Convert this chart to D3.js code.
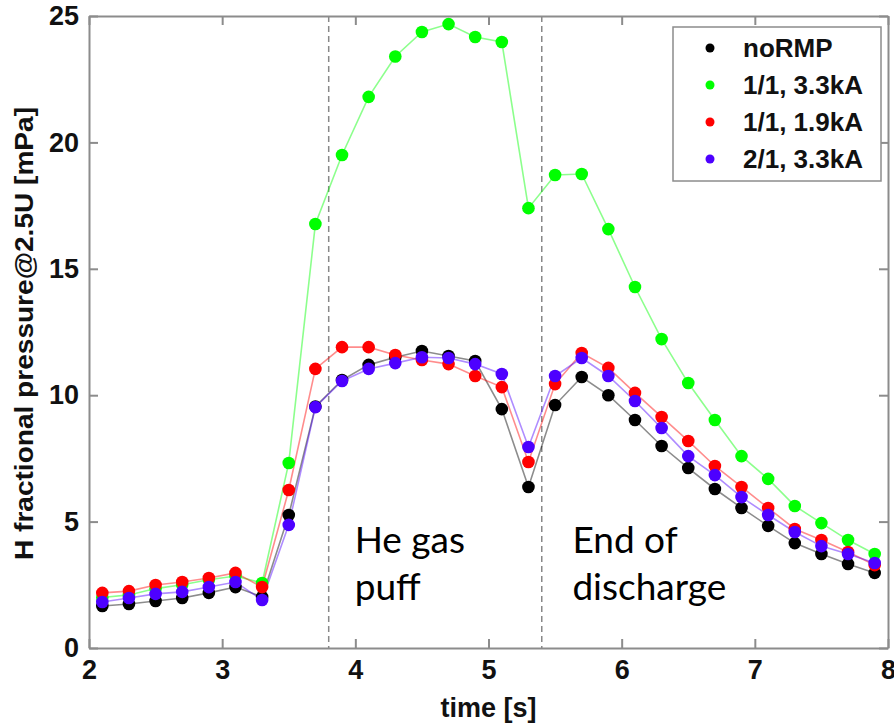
<!DOCTYPE html>
<html>
<head>
<meta charset="utf-8">
<script src="https://cdn.jsdelivr.net/npm/d3@7"></script>
<style>
  body { margin: 0; background: white; }
  svg { display: block; }
</style>
</head>
<body>
<div id="chart"></div>
<script>
// time points [s]
const times = [2.1, 2.3, 2.5, 2.7, 2.9, 3.1, 3.3, 3.5, 3.7, 3.9, 4.1, 4.3, 4.5, 4.7, 4.9,
  5.1, 5.3, 5.5, 5.7, 5.9, 6.1, 6.3, 6.5, 6.7, 6.9, 7.1, 7.3, 7.5, 7.7, 7.9];

const noRMP = [1.66, 1.74, 1.86, 1.98, 2.18, 2.41, 2.02, 5.26, 9.55, 10.6, 11.2, 11.5, 11.75, 11.55, 11.35,
  9.45, 6.37, 9.61, 10.72, 10.0, 9.02, 7.99, 7.12, 6.29, 5.54, 4.83, 4.15, 3.72, 3.32, 2.97];
const m11_33 = [2.0, 2.1, 2.35, 2.5, 2.7, 2.85, 2.57, 7.32, 16.77, 19.5, 21.8, 23.4, 24.37, 24.68, 24.17,
  23.97, 17.4, 18.71, 18.75, 16.57, 14.28, 12.22, 10.48, 9.02, 7.59, 6.69, 5.62, 4.94, 4.27, 3.72];
const m11_19 = [2.18, 2.25, 2.49, 2.61, 2.77, 2.97, 2.41, 6.25, 11.04, 11.9, 11.9, 11.59, 11.39, 11.23, 10.76,
  10.32, 7.36, 10.44, 11.67, 11.08, 10.09, 9.14, 8.19, 7.20, 6.37, 5.54, 4.71, 4.27, 3.80, 3.28];
const m21_33 = [1.82, 1.98, 2.14, 2.22, 2.41, 2.61, 1.90, 4.87, 9.53, 10.56, 11.04, 11.27, 11.5, 11.47, 11.23,
  10.84, 7.95, 10.76, 11.47, 10.76, 9.77, 8.70, 7.59, 6.84, 5.97, 5.26, 4.59, 4.03, 3.72, 3.36];

const seriesNames = ["noRMP", "1/1, 3.3kA", "1/1, 1.9kA", "2/1, 3.3kA"];
const seriesColors = ["#000000", "#00ff00", "#ff0000", "#4d00ff"];
const seriesValues = [noRMP, m11_33, m11_19, m21_33];

const xTicks = [2, 3, 4, 5, 6, 7, 8];
const yTicks = [0, 5, 10, 15, 20, 25];
const markerTimes = [3.8, 5.4];

const width = 894, height = 724;
const marginLeft = 89, marginRight = 6, marginTop = 16, marginBottom = 76;

const x = d3.scaleLinear([2, 8], [marginLeft, width - marginRight]);
const y = d3.scaleLinear([0, 25], [height - marginBottom, marginTop]);

const svg = d3.select("#chart").append("svg")
  .attr("width", width)
  .attr("height", height)
  .attr("viewBox", [0, 0, width, height]);

const axisColor = "#8c8c8c";
const tickFont = "'Liberation Sans', Arial, sans-serif";

// vertical dashed lines
svg.append("g")
  .selectAll("line")
  .data(markerTimes)
  .join("line")
  .attr("x1", d => x(d)).attr("x2", d => x(d))
  .attr("y1", y(25)).attr("y2", y(0))
  .attr("stroke", "#888")
  .attr("stroke-width", 1.5)
  .attr("stroke-dasharray", "6,4");

// annotations
const notes = [
  { x: 3.995, lines: ["He gas", "puff"] },
  { x: 5.63, lines: ["End of", "discharge"] }
];
notes.forEach(n => {
  const t = svg.append("text")
    .attr("font-family", "Lato, 'Open Sans', sans-serif")
    .attr("font-size", 37)
    .attr("fill", "#000");
  n.lines.forEach((l, i) => {
    t.append("tspan").attr("x", x(n.x)).attr("y", 553 + i * 47).text(l);
  });
});

// series lines
const line = d3.line()
  .x((d, i) => x(times[i]))
  .y(d => y(d));

seriesValues.forEach((vals, k) => {
  svg.append("path")
    .attr("fill", "none")
    .attr("stroke", seriesColors[k])
    .attr("stroke-opacity", 0.45)
    .attr("stroke-width", 1.6)
    .attr("d", line(vals));
});
seriesValues.forEach((vals, k) => {
  svg.append("g")
    .selectAll("circle")
    .data(vals)
    .join("circle")
    .attr("cx", (d, i) => x(times[i]))
    .attr("cy", d => y(d))
    .attr("r", 6.3)
    .attr("fill", seriesColors[k]);
});

// axes box with inward ticks
const xAxis = d3.axisBottom(x).tickValues(xTicks).tickFormat(d3.format("d"))
  .tickSize(-9).tickPadding(12).tickSizeOuter(0);
const yAxis = d3.axisLeft(y).tickValues(yTicks).tickFormat(d3.format("d"))
  .tickSize(-9).tickPadding(10).tickSizeOuter(0);

svg.append("g")
  .attr("transform", `translate(0,${y(0)})`)
  .call(xAxis)
  .call(g => g.selectAll(".tick text")
    .attr("font-size", 27).attr("font-weight", "bold").attr("font-family", tickFont).attr("fill", "#111"));
svg.append("g")
  .attr("transform", `translate(${x(2)},0)`)
  .call(yAxis)
  .call(g => g.selectAll(".tick text")
    .attr("font-size", 27).attr("font-weight", "bold").attr("font-family", tickFont).attr("fill", "#111"));
svg.append("g")
  .attr("transform", `translate(0,${y(25)})`)
  .call(d3.axisTop(x).tickValues(xTicks).tickSize(-9).tickSizeOuter(0).tickFormat(""));
svg.append("g")
  .attr("transform", `translate(${x(8)},0)`)
  .call(d3.axisRight(y).tickValues(yTicks).tickSize(-9).tickSizeOuter(0).tickFormat(""));

svg.selectAll(".domain, .tick line")
  .attr("stroke", axisColor)
  .attr("stroke-width", 2);

// axis labels
svg.append("text")
  .attr("x", (x(2) + x(8)) / 2)
  .attr("y", 717)
  .attr("text-anchor", "middle")
  .attr("font-family", tickFont)
  .attr("font-size", 27)
  .attr("font-weight", "bold")
  .attr("fill", "#111")
  .text("time [s]");

svg.append("text")
  .attr("transform", `translate(33,${(107 + 560) / 2}) rotate(-90)`)
  .attr("text-anchor", "middle")
  .attr("font-family", tickFont)
  .attr("font-size", 26)
  .attr("font-weight", "bold")
  .attr("fill", "#111")
  .attr("textLength", 453)
  .attr("lengthAdjust", "spacingAndGlyphs")
  .text("H fractional pressure@2.5U [mPa]");

// legend
const legend = svg.append("g").attr("transform", "translate(673,27)");
legend.append("rect")
  .attr("width", 208).attr("height", 154)
  .attr("fill", "white")
  .attr("stroke", axisColor)
  .attr("stroke-width", 1.5);
const rows = legend.selectAll("g.row")
  .data(seriesNames)
  .join("g")
  .attr("class", "row")
  .attr("transform", (d, i) => `translate(0,${21 + i * 37})`);
rows.append("circle")
  .attr("cx", 37).attr("r", 4.5)
  .attr("fill", (d, i) => seriesColors[i]);
rows.append("text")
  .attr("x", 70).attr("y", 9)
  .attr("font-family", tickFont)
  .attr("font-size", 26)
  .attr("font-weight", "bold")
  .attr("fill", "#111")
  .text(d => d);
</script>
</body>
</html>
